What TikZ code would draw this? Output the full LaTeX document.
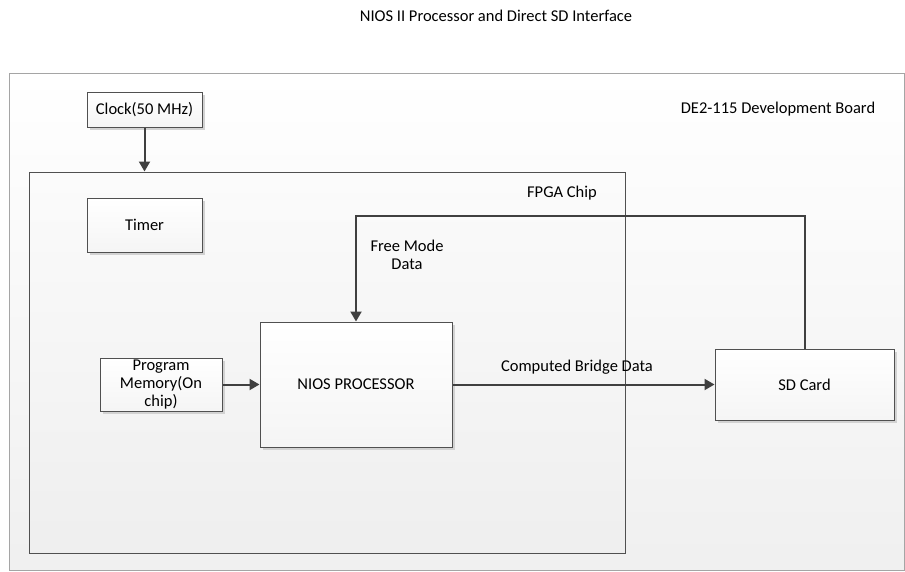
\documentclass[tikz,border=0pt]{standalone}
\usepackage{fontspec}
\setmainfont{Carlito}
\usetikzlibrary{arrows.meta, shadows}

\definecolor{edgegray}{RGB}{80,80,80}
\definecolor{linkgray}{RGB}{64,64,64}
\definecolor{boardgray}{RGB}{165,165,165}

\begin{document}
\begin{tikzpicture}[x=1pt, y=-1pt, >={Triangle[length=10pt, width=11pt]},
    every node/.style={font=\fontsize{16.5}{18}\selectfont, inner sep=0pt},
    block/.style={draw=edgegray, line width=1pt, top color=white, bottom color=gray!8,
      drop shadow={shadow xshift=2.5pt, shadow yshift=-2.5pt, fill=gray!35, opacity=1},
      align=center},
    link/.style={->, draw=linkgray, line width=2pt}]
  \useasboundingbox (0,0) rectangle (905,571);

  \node (title) at (496,16) {NIOS II Processor and Direct SD Interface};

  % development board and chip
  \node[draw=boardgray, line width=1pt, top color=white, bottom color=gray!12,
    minimum width=895pt, minimum height=497pt] (board) at (456.5,321.5) {};
  \node (boardlabel) at (778,109) {DE2-115 Development Board};
  \node[draw=edgegray, line width=1pt, top color=gray!3, bottom color=gray!13,
    minimum width=596pt, minimum height=381pt] (fpga) at (327,362.5) {};
  \node (fpgalabel) at (562,193) {FPGA Chip};

  % blocks
  \node[block, minimum width=115pt, minimum height=35pt] (clock) at (144.5,109.5) {Clock(50 MHz)};
  \node[block, minimum width=115pt, minimum height=54pt] (timer) at (144.5,225) {Timer};
  \node[block, minimum width=122pt, minimum height=53pt] (progmem) at (161,384.5)
    {Program\\Memory(On\\chip)};
  \node[block, minimum width=192pt, minimum height=125pt] (nios) at (356,384.5) {NIOS PROCESSOR};
  \node[block, minimum width=179pt, minimum height=71pt] (sdcard) at (804.5,384.5) {SD Card};

  % connections
  \draw[link] (clock.south) -- (clock.south |- fpga.north);
  \draw[link] (progmem.east) -- (nios.west);
  \draw[link] (nios.east) -- node[pos=0.475, above=9pt] (bridgelabel) {Computed Bridge Data} (sdcard.west);
  \draw[link] (sdcard.north) -- ++(0,-133) -| (nios.north);
  \node[align=center] (freelabel) at (407,255) {Free Mode\\Data};
\end{tikzpicture}
\end{document}
